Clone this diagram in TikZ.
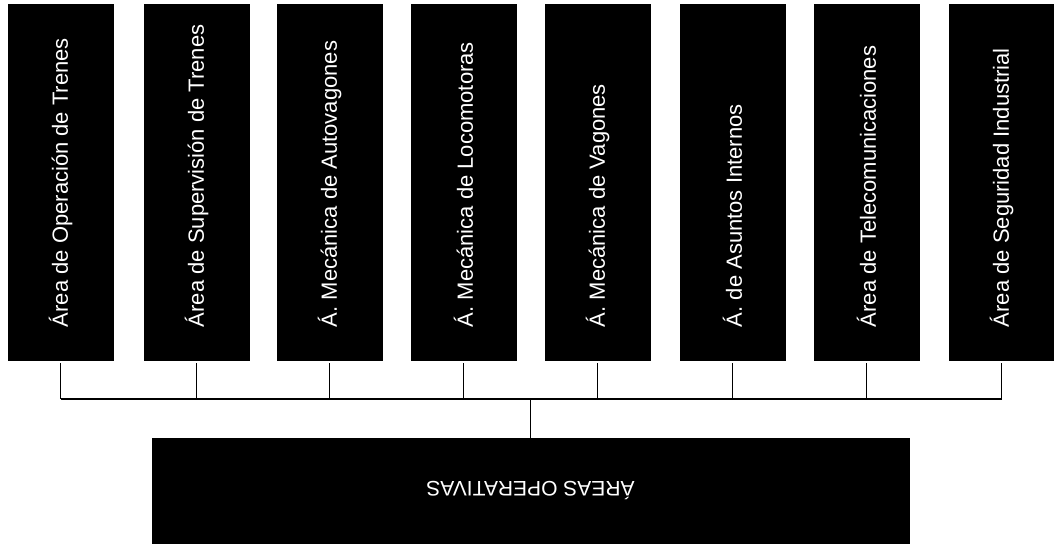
\documentclass[tikz,border=0pt]{standalone}
\usepackage{fontspec}
\setmainfont{Liberation Sans}
\begin{document}
\begin{tikzpicture}[x=1pt,y=-1pt,
  areabox/.style={fill=black,draw=black,minimum width=105pt,minimum height=356pt,inner sep=0pt},
  arealabel/.style={text=white,rotate=90,anchor=west,inner sep=0pt,font=\fontsize{22}{25}\selectfont},
  rootbox/.style={fill=black,draw=black,minimum width=757pt,minimum height=105pt,inner sep=0pt},
  rootlabel/.style={text=white,rotate=180,inner sep=0pt,font=\fontsize{21}{24}\selectfont},
  link/.style={draw=black,line width=1.5pt}]
\useasboundingbox (0,0) rectangle (1054,547);
% upper row of departments
\foreach \n/\cx/\t in {1/60.5/Área de Operación de Trenes,
                      2/196.5/Área de Supervisión de Trenes,
                      3/329.5/Á. Mecánica de Autovagones,
                      4/463.5/Á. Mecánica de Locomotoras,
                      5/597.5/Á. Mecánica de Vagones,
                      6/732.5/Á. de Asuntos Internos,
                      7/866.5/Área de Telecomunicaciones,
                      8/1001.5/Área de Seguridad Industrial}{
  \node[areabox] (b\n) at (\cx,182) {};
  \node[arealabel] (t\n) at ([yshift=33pt]b\n.south) {\t};
}
% parent area
\node[rootbox] (root) at (530.5,490.5) {};
\node[rootlabel] (rt) at (root.center) {ÁREAS OPERATIVAS};
% connecting bus
\coordinate (bus) at (0,399);
\draw[link] (b1.south |- bus) -- (b8.south |- bus);
\foreach \n in {1,...,8}{
  \draw[link] ([yshift=-3pt]b\n.south) -- (b\n.south |- bus);
}
\draw[link] (root.north) -- (root.north |- bus);
\end{tikzpicture}
\end{document}
